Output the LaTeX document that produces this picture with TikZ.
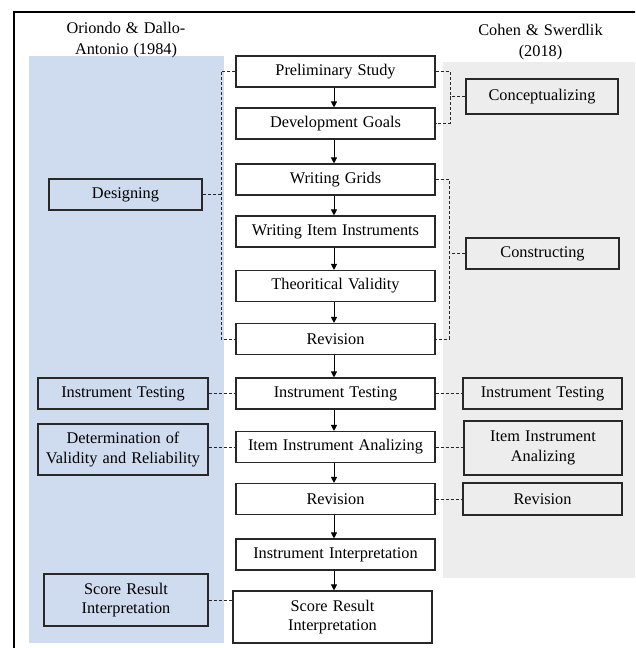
\documentclass[tikz,border=0pt]{standalone}
\usepackage{fontspec}
\setmainfont{Liberation Serif}[WordSpace={1.25}]
\usetikzlibrary{arrows.meta}
\definecolor{panelblue}{RGB}{207,219,239}
\definecolor{panelgray}{RGB}{237,237,237}
\definecolor{edge}{RGB}{40,40,40}
\tikzset{
  stepbox/.style={draw=edge, line width=1.1pt, fill=white, align=center, inner sep=0pt,
    minimum width=199pt, minimum height=31pt, font=\fontsize{16.3}{19.5}\selectfont},
  sidebox/.style={draw=edge, line width=1.1pt, align=center, inner sep=0pt,
    minimum height=31pt, font=\fontsize{16.3}{19.5}\selectfont},
  flow/.style={draw=black, line width=0.9pt, -{Triangle[length=6pt,width=6pt]}},
  link/.style={draw=edge, line width=0.8pt, dash pattern=on 3pt off 2pt},
  heading/.style={align=center, font=\fontsize{16.3}{20.5}\selectfont},
}
\begin{document}
\begin{tikzpicture}[x=1pt,y=-1pt]
\useasboundingbox (0,0) rectangle (635,648);
\clip (0,0) rectangle (635,648);
% panels
\fill[panelblue] (29,56) rectangle (224,643);
\fill[panelgray] (443,62) rectangle (640,578);
% frame
\draw[line width=1.4pt] (14,700) -- (14,12) -- (700,12);
% headings
\node[heading] (hL) at (126,40) {Oriondo \& Dallo-\\Antonio (1984)};
\node[heading] (hR) at (540.5,42) {Cohen \& Swerdlik\\(2018)};
% centre column
\node[stepbox] (s1) at (335.5,71.5) {Preliminary Study};
\node[stepbox] (s2) at (335.5,123.5) {Development Goals};
\node[stepbox] (s3) at (335.5,179.5) {Writing Grids};
\node[stepbox] (s4) at (335.5,231.5) {Writing Item Instruments};
\node[stepbox] (s5) at (335.5,286) {Theoritical Validity};
\node[stepbox] (s6) at (335.5,339) {Revision};
\node[stepbox] (s7) at (335.5,393.5) {Instrument Testing};
\node[stepbox] (s8) at (335.5,447) {Item Instrument Analizing};
\node[stepbox] (s9) at (335.5,499) {Revision};
\node[stepbox] (s10) at (335.5,554.5) {Instrument Interpretation};
\node[stepbox, minimum height=52pt] (s11) at (332.5,617) {Score Result\\Interpretation};
\foreach \a/\b in {s1/s2,s2/s3,s3/s4,s4/s5,s5/s6,s6/s7,s7/s8,s8/s9,s9/s10,s10/s11}
  \draw[flow] (\a.south -| 334,0) -- (\b.north -| 334,0);
% left column
\node[sidebox, fill=panelblue, minimum width=153pt] (l1) at (125.5,194.5) {Designing};
\node[sidebox, fill=panelblue, minimum width=170pt] (l2) at (123,393.5) {Instrument Testing};
\node[sidebox, fill=panelblue, minimum width=170pt, minimum height=51pt] (l3) at (123,449.5) {Determination of\\Validity and Reliability};
\node[sidebox, fill=panelblue, minimum width=164pt, minimum height=52pt] (l4) at (126,600) {Score Result\\Interpretation};
% right column
\node[sidebox, fill=panelgray, minimum width=152pt, minimum height=35pt] (r1) at (542,96.5) {Conceptualizing};
\node[sidebox, fill=panelgray, minimum width=153pt] (r2) at (542.5,253.5) {Constructing};
\node[sidebox, fill=panelgray, minimum width=159pt] (r3) at (542.5,393.5) {Instrument Testing};
\node[sidebox, fill=panelgray, minimum width=158pt, minimum height=54pt] (r4) at (543,448) {Item Instrument\\Analizing};
\node[sidebox, fill=panelgray, minimum width=159pt, minimum height=32pt] (r5) at (542.5,499) {Revision};
% bracket coordinates
\coordinate (bl) at (221,0);
\coordinate (br1) at (450,0);
\coordinate (br2) at (449,0);
% left bracket
\draw[link] (s1.west) -- (s1.west -| bl) -- (s6.west -| bl) -- (s6.west);
\draw[link] (l1.east) -- (l1.east -| bl);
% right brackets
\draw[link] (s1.east) -- (s1.east -| br1) -- (s2.east -| br1) -- (s2.east);
\draw[link] (r1.west) -- (r1.west -| br1);
\draw[link] (s3.east) -- (s3.east -| br2) -- (s6.east -| br2) -- (s6.east);
\draw[link] (r2.west) -- (r2.west -| br2);
% horizontal links
\draw[link] (l2.east) -- (s7.west);
\draw[link] (l3.east |- s8.west) -- (s8.west);
\draw[link] (l4.east) -- (l4.east -| s11.west);
\draw[link] (s7.east) -- (r3.west);
\draw[link] (s8.east) -- (s8.east -| r4.west);
\draw[link] (s9.east) -- (r5.west);
\end{tikzpicture}
\end{document}
